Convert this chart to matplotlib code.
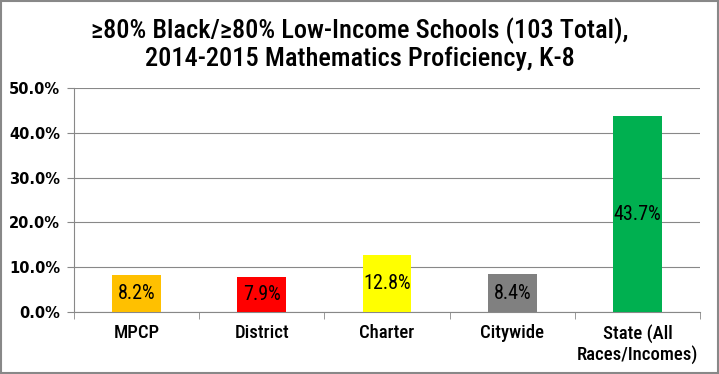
import numpy as np
import matplotlib.pyplot as plt
from matplotlib import font_manager
from matplotlib.ticker import FuncFormatter, FixedLocator
from matplotlib.patches import Rectangle

# data
categories = ["MPCP", "District", "Charter", "Citywide", "State (All\nRaces/Incomes)"]
values = [8.2, 7.9, 12.8, 8.4, 43.7]
colors = ["#FFC000", "#FF0000", "#FFFF00", "#808080", "#00B050"]
title = "\u226580% Black/\u226580% Low-Income Schools (103 Total),\n2014-2015 Mathematics Proficiency, K-8"

# narrow font, whatever is there
names = sorted(set(f.name for f in font_manager.fontManager.ttflist))
narrow = "DejaVu Sans"
for cand in ["Liberation Sans Narrow", "Roboto Condensed", "Open Sans Condensed", "DejaVu Sans Condensed"]:
    if cand in names:
        narrow = cand
        break
stretch = "normal" if narrow != "DejaVu Sans" else "condensed"

fig = plt.figure(figsize=(7.19, 3.74), dpi=100)
ax = fig.add_axes([74/719, 1 - 312/374, 626/719, 224/374])

x = np.arange(len(categories))
ax.bar(x, values, width=0.39, color=colors, zorder=3)
for xi, v in zip(x, values):
    ax.text(xi, v / 2, f"{v:.1f}%", ha="center", va="center", fontsize=14.5,
            family=narrow, fontstretch=stretch, zorder=4)

ax.set_xlim(-0.5, len(categories) - 0.5)
ax.set_ylim(0, 50)
ax.set_yticks(np.arange(0, 51, 10))
ax.yaxis.set_major_formatter(FuncFormatter(lambda v, p: f"{v:.1f}%"))
ax.set_xticks(x)
ax.set_xticklabels(categories, fontsize=13.5, family=narrow, fontstretch=stretch,
                   fontweight="medium", linespacing=1.1)
ax.xaxis.set_minor_locator(FixedLocator(np.arange(-0.5, len(categories), 1)))
ax.tick_params(axis="x", which="major", length=0, pad=9)
ax.tick_params(axis="x", which="minor", length=5, color="#888888")
ax.tick_params(axis="y", length=5, color="#888888", labelsize=10.5, pad=5)
for lbl in ax.get_yticklabels():
    lbl.set_fontweight("bold")
ax.grid(axis="y", color="#888888", linewidth=0.8, zorder=0)
for s in ["top", "right"]:
    ax.spines[s].set_visible(False)
for s in ["left", "bottom"]:
    ax.spines[s].set_color("#888888")

fig.text(0.5, 1 - 44/374, title, ha="center", va="center", fontsize=19,
         family=narrow, fontstretch=stretch, fontweight="medium", linespacing=1.15)
fig.patches.append(Rectangle((0.001, 0.002), 0.997, 0.995, transform=fig.transFigure,
                             fill=False, edgecolor="#888888", linewidth=1.5))

fig.savefig("out.png", dpi=100)
